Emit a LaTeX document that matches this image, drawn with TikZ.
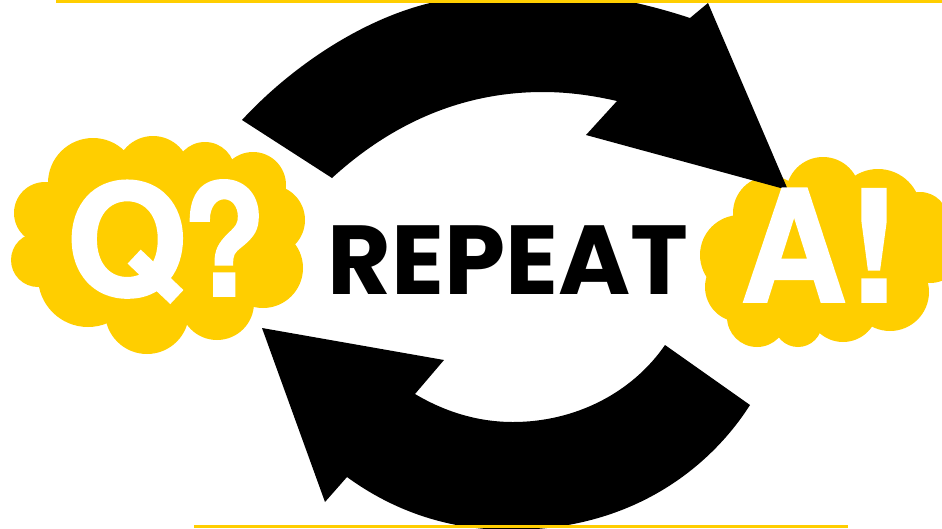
\documentclass[tikz,border=0pt]{standalone}
\usepackage{fontspec}
\setmainfont{Poppins}
\newfontfamily\cloudfont{TeX Gyre Heros}[BoldFeatures={FakeBold=1.2}]
\definecolor{cloudyellow}{HTML}{FFCE00}
\tikzset{
    loopdiagram/.style={x=1pt, y=-1pt, line join=miter},
    puff/.style={fill=cloudyellow},
    loopband/.style={fill=black},
    rule/.style={draw=cloudyellow, line width=3pt},
    bigtext/.style={white, inner sep=0pt, anchor=base, font=\fontsize{156}{156}\selectfont\cloudfont\bfseries},
    looptext/.style={black, inner sep=0pt, anchor=base, font=\fontsize{98}{98}\selectfont\bfseries},
}
\begin{document}
\begin{tikzpicture}[loopdiagram]
    \useasboundingbox (0,0) rectangle (942,528);

    % question cloud
    \foreach \cx/\cy/\r in {93/183/45, 153/173/37, 205/172/30, 253/185/33, 270/220/35,
        263/268/40, 217/303/37, 147/312/42, 88/277/50, 45/213/31, 38/260/27, 155/240/90}
        \fill[puff] (\cx,\cy) circle (\r);

    % answer cloud
    \foreach \cx/\cy/\r in {823/194/37, 878/212/43, 920/220/28, 930/250/33, 890/292/39,
        843/307/35, 798/323/24, 757/317/30, 740/287/35, 740/255/40, 770/213/37, 830/255/75}
        \fill[puff] (\cx,\cy) circle (\r);

    % upper arrow
    \fill[loopband] (242,120) .. controls (290,68) and (360,20) .. (430,3)
        .. controls (505,-15) and (590,-15) .. (690,18)
        -- (708,3) -- (788,190) -- (586,135) -- (617,101)
        .. controls (595,96) and (570,92) .. (543,92)
        .. controls (460,92) and (390,125) .. (332,178) -- cycle;

    % lower arrow
    \fill[loopband] (750,405) .. controls (715,460) and (640,530) .. (510,530)
        .. controls (450,530) and (395,512) .. (347,477)
        -- (325,502) -- (262,328) -- (444,360) -- (415,394)
        .. controls (447,413) and (480,422) .. (513,422)
        .. controls (575,422) and (632,393) .. (665,345) -- cycle;

    % rules at the edges
    \coordinate (topl) at (56,1.5);
    \coordinate (topr) at (942,1.5);
    \coordinate (botl) at (194,526.8);
    \coordinate (botr) at (848,526.8);
    \draw[rule] (topl) -- (topr);
    \draw[rule] (botl) -- (botr);

    \node[bigtext] (ask) at (166,296) {Q\kern-5pt\scalebox{0.88}[1]{?}};
    \node[bigtext] (ans) at (820,302) {\scalebox{0.95}[1]{A}\kern1pt!};
    \node[looptext] (rep) at (508,294) {REPEAT};
\end{tikzpicture}
\end{document}
